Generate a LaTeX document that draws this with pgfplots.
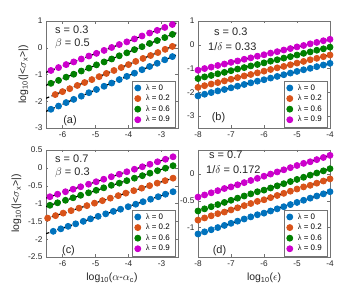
\documentclass[border=0pt]{standalone}
\usepackage{pgfplots}
\pgfplotsset{compat=1.18}
\usepackage{fontspec}
\setmainfont{Liberation Sans}
\newfontfamily\grk{Liberation Serif}
\definecolor{mblue}{RGB}{0,114,189}
\definecolor{morange}{RGB}{217,83,25}
\definecolor{mgreen}{RGB}{0,128,0}
\definecolor{mmag}{RGB}{204,0,204}
\pgfplotsset{
  mstyle/.style={
    scale only axis, width=132bp, height=107bp, anchor=south west,
    axis line style={black!55}, tick style={black!55},
    major tick length=2.5bp, tick align=inside,
    tick label style={font=\fontsize{8.3}{9}\selectfont, text=black!85},
    /pgf/number format/assume math mode=true,
    /pgf/number format/fixed,
    label style={font=\fontsize{10.5}{12}\selectfont, text=black!85},
    legend style={at={(1,0)}, anchor=south east, xshift=-3bp, yshift=1bp,
      draw=black!55, font=\fontsize{8}{9}\selectfont, inner xsep=3bp, inner ysep=1.5bp,
      row sep=-0.5bp, legend cell align=left,
      /tikz/every odd column/.append style={column sep=3bp}},
    every axis plot/.append style={line width=0.8bp},
  },
  dot/.style={only marks, mark=*, mark size=3bp, draw=none, fill=#1, mark options={draw=#1,fill=#1}},
  fit/.style={black, dash pattern=on 3.5bp off 2.5bp, line width=1.2bp, forget plot},
}
\newcommand{\lam}[1]{{\grk λ} = #1}
\begin{document}
\begin{tikzpicture}
\path (0,0) rectangle (362bp,290bp);
% ---------- (a)
\begin{axis}[mstyle, at={(46bp,162bp)}, xmin=-6.5, xmax=-2.5, ymin=-3, ymax=1,
  xtick={-6,-5,-4,-3}, ytick={-3,-2,-1,0,1},
  ylabel={log\textsubscript{10}(|<$\sigma$\textsubscript{x}>|)}]
\addplot[dot=mblue] coordinates {(-6.35,-2.30)(-6.12,-2.18)(-5.89,-2.05)(-5.66,-1.93)(-5.43,-1.81)(-5.20,-1.68)(-4.97,-1.56)(-4.74,-1.44)(-4.51,-1.32)(-4.28,-1.19)(-4.05,-1.07)(-3.82,-0.95)(-3.59,-0.82)(-3.36,-0.70)(-3.13,-0.58)(-2.90,-0.45)(-2.67,-0.33)};
\addlegendentry{\lam{0}}
\addplot[dot=morange] coordinates {(-6.22,-1.75)(-6.00,-1.64)(-5.78,-1.53)(-5.55,-1.41)(-5.33,-1.30)(-5.11,-1.19)(-4.89,-1.08)(-4.67,-0.96)(-4.44,-0.85)(-4.22,-0.74)(-4.00,-0.63)(-3.78,-0.51)(-3.56,-0.40)(-3.33,-0.29)(-3.11,-0.18)(-2.89,-0.06)(-2.67,0.05)};
\addlegendentry{\lam{0.2}}
\addplot[dot=mgreen] coordinates {(-6.35,-1.33)(-6.12,-1.22)(-5.89,-1.10)(-5.66,-0.99)(-5.43,-0.87)(-5.20,-0.76)(-4.97,-0.64)(-4.74,-0.53)(-4.51,-0.42)(-4.28,-0.30)(-4.05,-0.19)(-3.82,-0.07)(-3.59,0.04)(-3.36,0.16)(-3.13,0.27)(-2.90,0.38)(-2.67,0.50)};
\addlegendentry{\lam{0.6}}
\addplot[dot=mmag] coordinates {(-6.35,-0.85)(-6.12,-0.74)(-5.89,-0.63)(-5.66,-0.53)(-5.43,-0.42)(-5.20,-0.31)(-4.97,-0.21)(-4.74,-0.10)(-4.51,0.01)(-4.28,0.12)(-4.05,0.22)(-3.82,0.33)(-3.59,0.44)(-3.36,0.55)(-3.13,0.65)(-2.90,0.76)(-2.67,0.87)};
\addlegendentry{\lam{0.9}}
\addplot[fit] coordinates {(-6.5,-2.38)(-2.55,-0.27)};
\addplot[fit] coordinates {(-6.5,-1.89)(-2.55,0.11)};
\addplot[fit] coordinates {(-6.5,-1.405)(-2.55,0.56)};
\addplot[fit] coordinates {(-6.5,-0.92)(-2.55,0.925)};
\end{axis}
% ---------- (b)
\begin{axis}[mstyle, at={(198bp,162bp)}, xmin=-8, xmax=-4, ymin=-3.5, ymax=1,
  xtick={-8,-7,-6,-5,-4}, ytick={-3,-2,-1,0,1}]
\addplot[dot=mblue] coordinates {(-8.0,-2.15)(-7.8,-2.08)(-7.6,-2.01)(-7.4,-1.94)(-7.2,-1.88)(-7.0,-1.81)(-6.8,-1.74)(-6.6,-1.67)(-6.4,-1.60)(-6.2,-1.53)(-6.0,-1.47)(-5.8,-1.40)(-5.6,-1.33)(-5.4,-1.26)(-5.2,-1.19)(-5.0,-1.12)(-4.8,-1.05)(-4.6,-0.99)(-4.4,-0.92)(-4.2,-0.85)(-4.0,-0.78)};
\addlegendentry{\lam{0}}
\addplot[dot=morange] coordinates {(-8.0,-1.79)(-7.8,-1.72)(-7.6,-1.65)(-7.4,-1.59)(-7.2,-1.52)(-7.0,-1.45)(-6.8,-1.38)(-6.6,-1.31)(-6.4,-1.25)(-6.2,-1.18)(-6.0,-1.11)(-5.8,-1.04)(-5.6,-0.97)(-5.4,-0.91)(-5.2,-0.84)(-5.0,-0.77)(-4.8,-0.70)(-4.6,-0.63)(-4.4,-0.57)(-4.2,-0.50)(-4.0,-0.43)};
\addlegendentry{\lam{0.2}}
\addplot[dot=mgreen] coordinates {(-8.0,-1.42)(-7.8,-1.35)(-7.6,-1.29)(-7.4,-1.22)(-7.2,-1.16)(-7.0,-1.09)(-6.8,-1.02)(-6.6,-0.96)(-6.4,-0.89)(-6.2,-0.83)(-6.0,-0.76)(-5.8,-0.69)(-5.6,-0.63)(-5.4,-0.56)(-5.2,-0.50)(-5.0,-0.43)(-4.8,-0.36)(-4.6,-0.30)(-4.4,-0.23)(-4.2,-0.17)(-4.0,-0.10)};
\addlegendentry{\lam{0.6}}
\addplot[dot=mmag] coordinates {(-8.0,-1.07)(-7.8,-1.00)(-7.6,-0.94)(-7.4,-0.87)(-7.2,-0.81)(-7.0,-0.74)(-6.8,-0.68)(-6.6,-0.61)(-6.4,-0.55)(-6.2,-0.48)(-6.0,-0.42)(-5.8,-0.35)(-5.6,-0.29)(-5.4,-0.22)(-5.2,-0.16)(-5.0,-0.09)(-4.8,-0.03)(-4.6,0.04)(-4.4,0.10)(-4.2,0.17)(-4.0,0.23)};
\addlegendentry{\lam{0.9}}
\addplot[fit] coordinates {(-8,-2.15)(-4,-0.78)};
\addplot[fit] coordinates {(-8,-1.79)(-4,-0.43)};
\addplot[fit] coordinates {(-8,-1.42)(-4,-0.10)};
\addplot[fit] coordinates {(-8,-1.07)(-4,0.23)};
\end{axis}
% ---------- (c)
\begin{axis}[mstyle, at={(46bp,33bp)}, xmin=-6.5, xmax=-2.5, ymin=-2.5, ymax=0.5,
  xtick={-6,-5,-4,-3}, ytick={-2.5,-2,-1.5,-1,-0.5,0,0.5},
  ylabel={log\textsubscript{10}(|<$\sigma$\textsubscript{x}>|)},
  xlabel={log\textsubscript{10}($\alpha$-$\alpha$\textsubscript{c})}]
\addplot[dot=mblue] coordinates {(-6.28,-1.78)(-6.05,-1.71)(-5.83,-1.64)(-5.60,-1.57)(-5.37,-1.50)(-5.15,-1.43)(-4.92,-1.36)(-4.69,-1.29)(-4.46,-1.22)(-4.24,-1.16)(-4.01,-1.09)(-3.78,-1.02)(-3.56,-0.95)(-3.33,-0.88)(-3.10,-0.81)(-2.88,-0.74)(-2.65,-0.67)};
\addlegendentry{\lam{0}}
\addplot[dot=morange] coordinates {(-6.45,-1.41)(-6.21,-1.34)(-5.98,-1.27)(-5.74,-1.20)(-5.50,-1.13)(-5.26,-1.06)(-5.03,-0.99)(-4.79,-0.92)(-4.55,-0.85)(-4.31,-0.78)(-4.08,-0.71)(-3.84,-0.64)(-3.60,-0.57)(-3.36,-0.50)(-3.13,-0.43)(-2.89,-0.36)(-2.65,-0.29)};
\addlegendentry{\lam{0.2}}
\addplot[dot=mgreen] coordinates {(-6.38,-1.05)(-6.15,-0.98)(-5.91,-0.91)(-5.68,-0.84)(-5.45,-0.77)(-5.21,-0.70)(-4.98,-0.63)(-4.75,-0.56)(-4.52,-0.49)(-4.28,-0.43)(-4.05,-0.36)(-3.82,-0.29)(-3.58,-0.22)(-3.35,-0.15)(-3.12,-0.08)(-2.88,-0.01)(-2.65,0.06)};
\addlegendentry{\lam{0.6}}
\addplot[dot=mmag] coordinates {(-6.38,-0.81)(-6.15,-0.74)(-5.91,-0.67)(-5.68,-0.60)(-5.45,-0.53)(-5.21,-0.46)(-4.98,-0.39)(-4.75,-0.32)(-4.52,-0.25)(-4.28,-0.18)(-4.05,-0.11)(-3.82,-0.04)(-3.58,0.03)(-3.35,0.10)(-3.12,0.17)(-2.88,0.24)(-2.65,0.31)};
\addlegendentry{\lam{0.9}}
\addplot[fit] coordinates {(-6.5,-1.846)(-2.55,-0.64)};
\addplot[fit] coordinates {(-6.5,-1.425)(-2.55,-0.26)};
\addplot[fit] coordinates {(-6.5,-1.086)(-2.55,0.09)};
\addplot[fit] coordinates {(-6.5,-0.846)(-2.55,0.34)};
\end{axis}
% ---------- (d)
\begin{axis}[mstyle, at={(198bp,33bp)}, xmin=-8, xmax=-4, ymin=-1.55, ymax=0.45,
  xtick={-8,-7,-6,-5,-4}, ytick={-1,-0.5,0},
  xlabel={log\textsubscript{10}($\epsilon$)}]
\addplot[dot=mblue] coordinates {(-8.0,-1.12)(-7.8,-1.08)(-7.6,-1.04)(-7.4,-1.00)(-7.2,-0.96)(-7.0,-0.92)(-6.8,-0.88)(-6.6,-0.84)(-6.4,-0.80)(-6.2,-0.76)(-6.0,-0.73)(-5.8,-0.69)(-5.6,-0.65)(-5.4,-0.61)(-5.2,-0.57)(-5.0,-0.53)(-4.8,-0.49)(-4.6,-0.45)(-4.4,-0.41)(-4.2,-0.37)(-4.0,-0.33)};
\addlegendentry{\lam{0}}
\addplot[dot=morange] coordinates {(-8.0,-0.86)(-7.8,-0.82)(-7.6,-0.78)(-7.4,-0.74)(-7.2,-0.71)(-7.0,-0.67)(-6.8,-0.63)(-6.6,-0.59)(-6.4,-0.55)(-6.2,-0.51)(-6.0,-0.48)(-5.8,-0.44)(-5.6,-0.40)(-5.4,-0.36)(-5.2,-0.32)(-5.0,-0.28)(-4.8,-0.24)(-4.6,-0.21)(-4.4,-0.17)(-4.2,-0.13)(-4.0,-0.09)};
\addlegendentry{\lam{0.2}}
\addplot[dot=mgreen] coordinates {(-8.0,-0.69)(-7.8,-0.65)(-7.6,-0.61)(-7.4,-0.57)(-7.2,-0.53)(-7.0,-0.49)(-6.8,-0.45)(-6.6,-0.41)(-6.4,-0.37)(-6.2,-0.33)(-6.0,-0.30)(-5.8,-0.26)(-5.6,-0.22)(-5.4,-0.18)(-5.2,-0.14)(-5.0,-0.10)(-4.8,-0.06)(-4.6,-0.02)(-4.4,0.02)(-4.2,0.06)(-4.0,0.10)};
\addlegendentry{\lam{0.6}}
\addplot[dot=mmag] coordinates {(-8.0,-0.43)(-7.8,-0.39)(-7.6,-0.35)(-7.4,-0.31)(-7.2,-0.27)(-7.0,-0.24)(-6.8,-0.20)(-6.6,-0.16)(-6.4,-0.12)(-6.2,-0.08)(-6.0,-0.04)(-5.8,0.00)(-5.6,0.04)(-5.4,0.08)(-5.2,0.12)(-5.0,0.16)(-4.8,0.20)(-4.6,0.23)(-4.4,0.27)(-4.2,0.31)(-4.0,0.35)};
\addlegendentry{\lam{0.9}}
\addplot[fit] coordinates {(-8,-1.12)(-4,-0.33)};
\addplot[fit] coordinates {(-8,-0.86)(-4,-0.09)};
\addplot[fit] coordinates {(-8,-0.69)(-4,0.10)};
\addplot[fit] coordinates {(-8,-0.43)(-4,0.35)};
\end{axis}
% annotations
\begin{scope}[every node/.style={font=\fontsize{11}{13}\selectfont, text=black!85, inner sep=0pt}]
\node[anchor=west] at (55bp,260bp) {s = 0.3};
\node[anchor=west] at (55bp,246bp) {$\beta$ = 0.5};
\node[anchor=west] at (214bp,258bp) {s = 0.3};
\node[anchor=west] at (208bp,243bp) {1/$\delta$ = 0.33};
\node[anchor=west] at (55bp,131bp) {s = 0.7};
\node[anchor=west] at (55bp,117bp) {$\beta$ = 0.3};
\node[anchor=west] at (209bp,135bp) {s = 0.7};
\node[anchor=west] at (206bp,120bp) {1/$\delta$ = 0.172};
\node at (70bp,169bp) {(a)};
\node at (218.5bp,172bp) {(b)};
\node at (68.5bp,39bp) {(c)};
\node at (219.5bp,39bp) {(d)};
\end{scope}
\end{tikzpicture}
\end{document}
